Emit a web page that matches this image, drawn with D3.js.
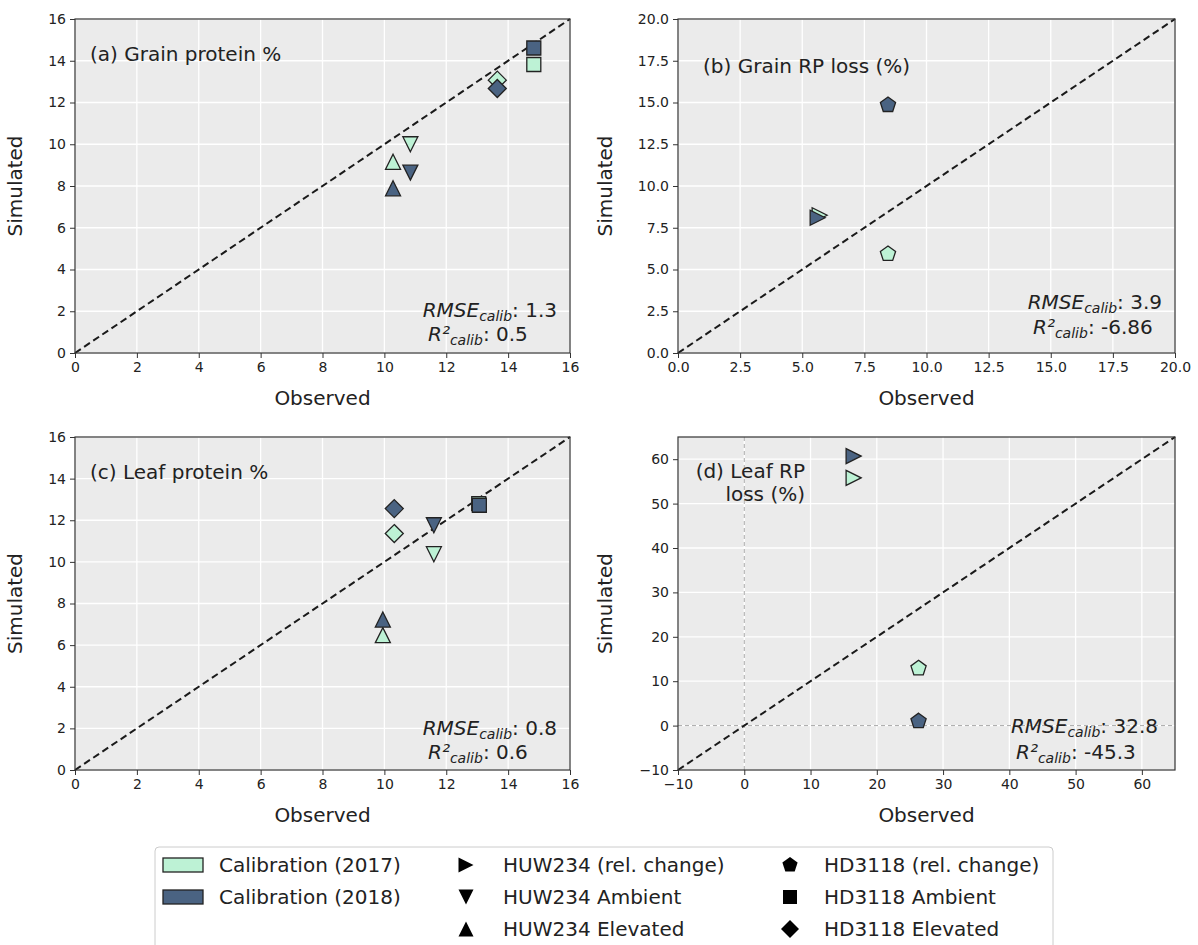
<!DOCTYPE html>
<html>
<head>
<meta charset="utf-8">
<title>calibration scatter</title>
<script src="https://cdn.jsdelivr.net/npm/d3@7"></script>
<style>
  body { margin: 0; background: #fff; }
  svg text { font-family: "DejaVu Sans", sans-serif; fill: #222; }
</style>
</head>
<body>
<svg id="chart" width="1198" height="945"></svg>
<script>
// ---- data ----
var yearLabels = ['Calibration (2017)', 'Calibration (2018)'];
var markerLabels = ['HUW234 (rel. change)', 'HUW234 Ambient', 'HUW234 Elevated',
                    'HD3118 (rel. change)', 'HD3118 Ambient', 'HD3118 Elevated'];

var panelTitles = [['(a) Grain protein %'], ['(b) Grain RP loss (%)'],
                   ['(c) Leaf protein %'], ['(d) Leaf RP', 'loss (%)']];
var rmseValues = ['1.3', '3.9', '0.8', '32.8'];
var r2Values = ['0.5', '-6.86', '0.6', '-45.3'];

var proteinTicks = [0, 2, 4, 6, 8, 10, 12, 14, 16];
var grainLossTicks = [0, 2.5, 5, 7.5, 10, 12.5, 15, 17.5, 20];
var leafLossTicks = [-10, 0, 10, 20, 30, 40, 50, 60];

var grainProtein = [
  {m: 'HUW234 Elevated', year: 2017, obs: 10.28, sim: 9.16},
  {m: 'HUW234 Ambient',  year: 2017, obs: 10.84, sim: 10.0},
  {m: 'HD3118 Elevated', year: 2017, obs: 13.65, sim: 13.07},
  {m: 'HD3118 Ambient',  year: 2017, obs: 14.83, sim: 13.82},
  {m: 'HUW234 Elevated', year: 2018, obs: 10.28, sim: 7.89},
  {m: 'HUW234 Ambient',  year: 2018, obs: 10.84, sim: 8.64},
  {m: 'HD3118 Elevated', year: 2018, obs: 13.65, sim: 12.67},
  {m: 'HD3118 Ambient',  year: 2018, obs: 14.83, sim: 14.61}
];
var grainRPLoss = [
  {m: 'HUW234 (rel. change)', year: 2017, obs: 5.7,  sim: 8.25},
  {m: 'HD3118 (rel. change)', year: 2017, obs: 8.45, sim: 5.93},
  {m: 'HUW234 (rel. change)', year: 2018, obs: 5.62, sim: 8.1},
  {m: 'HD3118 (rel. change)', year: 2018, obs: 8.45, sim: 14.85}
];
var leafProtein = [
  {m: 'HUW234 Elevated', year: 2017, obs: 9.95,  sim: 6.48},
  {m: 'HUW234 Ambient',  year: 2017, obs: 11.6,  sim: 10.37},
  {m: 'HD3118 Elevated', year: 2017, obs: 10.32, sim: 11.36},
  {m: 'HD3118 Ambient',  year: 2017, obs: 13.05, sim: 12.8},
  {m: 'HUW234 Elevated', year: 2018, obs: 9.95,  sim: 7.23},
  {m: 'HUW234 Ambient',  year: 2018, obs: 11.6,  sim: 11.76},
  {m: 'HD3118 Elevated', year: 2018, obs: 10.32, sim: 12.56},
  {m: 'HD3118 Ambient',  year: 2018, obs: 13.07, sim: 12.72}
];
var leafRPLoss = [
  {m: 'HUW234 (rel. change)', year: 2017, obs: 16.5, sim: 55.8},
  {m: 'HD3118 (rel. change)', year: 2017, obs: 26.3, sim: 12.9},
  {m: 'HUW234 (rel. change)', year: 2018, obs: 16.5, sim: 60.7},
  {m: 'HD3118 (rel. change)', year: 2018, obs: 26.3, sim: 1.0}
];

// ---- styles / layout ----
var yearColor = {2017: '#bdf2d5', 2018: '#4a6382'};
var shapeOf = {
  'HUW234 (rel. change)': 'right', 'HUW234 Ambient': 'down', 'HUW234 Elevated': 'up',
  'HD3118 (rel. change)': 'pentagon', 'HD3118 Ambient': 'square', 'HD3118 Elevated': 'diamond'
};
var shapeSize = {right: 7.5, down: 7.5, up: 7.5, pentagon: 8, square: 7, diamond: 9};

var panels = [
  {data: grainProtein, domain: [0, 16], ticks: proteinTicks, fmt: d3.format('d'),
   left: 75, top: 19, w: 495, h: 334, title: {x: 15, y: 42, anchor: 'start'},
   stats: {e1: 13, b1: 36, s2: 142, b2: 12}, ylab: -53},
  {data: grainRPLoss, domain: [0, 20], ticks: grainLossTicks, fmt: d3.format('.1f'),
   left: 678, top: 19, w: 497, h: 334, title: {x: 25, y: 54, anchor: 'start'},
   stats: {e1: 13, b1: 44, s2: 142, b2: 19}, ylab: -66},
  {data: leafProtein, domain: [0, 16], ticks: proteinTicks, fmt: d3.format('d'),
   left: 75, top: 437, w: 495, h: 333, title: {x: 15, y: 42, anchor: 'start'},
   stats: {e1: 13, b1: 35, s2: 142, b2: 11}, ylab: -53},
  {data: leafRPLoss, domain: [-10, 65], ticks: leafLossTicks, fmt: d3.format('d'),
   left: 678, top: 437, w: 497, h: 333, title: {x: 127, y: 41, anchor: 'end'},
   stats: {e1: 17, b1: 37, s2: 159, b2: 11}, ylab: -66, zeroLines: true}
];

function shapePath(kind, r) {
  var pts;
  if (kind === 'square') pts = [[-r, -r], [r, -r], [r, r], [-r, r]];
  else if (kind === 'diamond') pts = [[0, -r], [r, 0], [0, r], [-r, 0]];
  else if (kind === 'up') pts = [[0, -r], [r, r], [-r, r]];
  else if (kind === 'down') pts = [[0, r], [r, -r], [-r, -r]];
  else if (kind === 'right') pts = [[r, 0], [-r, r], [-r, -r]];
  else pts = d3.range(5).map(function (k) {
    var a = (-90 + 72 * k) * Math.PI / 180;
    return [r * Math.cos(a), r * Math.sin(a)];
  });
  return d3.line().curve(d3.curveLinearClosed)(pts);
}

var svg = d3.select('#chart');

panels.forEach(function (p, i) {
  var x = d3.scaleLinear().domain(p.domain).range([0, p.w]);
  var y = d3.scaleLinear().domain(p.domain).range([p.h, 0]);
  var g = svg.append('g').attr('transform', 'translate(' + p.left + ',' + p.top + ')');

  g.append('rect').attr('width', p.w).attr('height', p.h).attr('fill', '#ebebeb');

  // grid
  g.selectAll('.gx').data(p.ticks).enter().append('line')
    .attr('x1', x).attr('x2', x).attr('y1', 0).attr('y2', p.h)
    .attr('stroke', '#fff').attr('stroke-width', 1.3);
  g.selectAll('.gy').data(p.ticks).enter().append('line')
    .attr('y1', y).attr('y2', y).attr('x1', 0).attr('x2', p.w)
    .attr('stroke', '#fff').attr('stroke-width', 1.3);

  if (p.zeroLines) {
    g.append('line').attr('x1', x(0)).attr('x2', x(0)).attr('y1', 0).attr('y2', p.h)
      .attr('stroke', '#a8a8a8').attr('stroke-width', 1).attr('stroke-dasharray', '4,3');
    g.append('line').attr('y1', y(0)).attr('y2', y(0)).attr('x1', 0).attr('x2', p.w)
      .attr('stroke', '#a8a8a8').attr('stroke-width', 1).attr('stroke-dasharray', '4,3');
  }

  // 1:1 line
  g.append('line')
    .attr('x1', x(p.domain[0])).attr('y1', y(p.domain[0]))
    .attr('x2', x(p.domain[1])).attr('y2', y(p.domain[1]))
    .attr('stroke', '#1a1a1a').attr('stroke-width', 2).attr('stroke-dasharray', '7,4');

  // points, 2017 first so 2018 sits on top
  var pts = p.data.slice().sort(function (a, b) { return a.year - b.year; });
  g.selectAll('.pt').data(pts).enter().append('path')
    .attr('d', function (d) { return shapePath(shapeOf[d.m], shapeSize[shapeOf[d.m]]); })
    .attr('transform', function (d) { return 'translate(' + x(d.obs) + ',' + y(d.sim) + ')'; })
    .attr('fill', function (d) { return yearColor[d.year]; })
    .attr('stroke', '#222').attr('stroke-width', 1.3).attr('stroke-linejoin', 'miter');

  // axes
  var xa = g.append('g').attr('transform', 'translate(0,' + p.h + ')')
    .call(d3.axisBottom(x).tickValues(p.ticks).tickFormat(p.fmt).tickSize(5).tickPadding(4));
  var ya = g.append('g')
    .call(d3.axisLeft(y).tickValues(p.ticks).tickFormat(p.fmt).tickSize(5).tickPadding(4));
  [xa, ya].forEach(function (a) {
    a.select('.domain').remove();
    a.selectAll('line').attr('stroke', '#333');
    a.selectAll('text').style('font-size', '14px').attr('fill', '#222');
  });

  g.append('rect').attr('width', p.w).attr('height', p.h)
    .attr('fill', 'none').attr('stroke', '#333').attr('stroke-width', 1.2);

  g.append('text').attr('x', p.w / 2).attr('y', p.h + 52)
    .attr('text-anchor', 'middle').style('font-size', '20px').text('Observed');
  g.append('text').attr('transform', 'translate(' + p.ylab + ',' + (p.h / 2) + ') rotate(-90)')
    .attr('text-anchor', 'middle').style('font-size', '20px').text('Simulated');

  // panel title
  panelTitles[i].forEach(function (line, k) {
    g.append('text').attr('x', p.title.x).attr('y', p.title.y + k * 23)
      .attr('text-anchor', p.title.anchor).style('font-size', '20px').text(line);
  });

  // stats
  var s = p.stats;
  var t1 = g.append('text').attr('x', p.w - s.e1).attr('y', p.h - s.b1)
    .attr('text-anchor', 'end').style('font-size', '20px');
  t1.append('tspan').style('font-style', 'italic').text('RMSE');
  t1.append('tspan').style('font-style', 'italic').style('font-size', '14px').attr('dy', 4).text('calib');
  t1.append('tspan').attr('dy', -4).text(': ' + rmseValues[i]);
  var t2 = g.append('text').attr('x', p.w - s.s2).attr('y', p.h - s.b2)
    .attr('text-anchor', 'start').style('font-size', '20px');
  t2.append('tspan').style('font-style', 'italic').text('R²');
  t2.append('tspan').style('font-style', 'italic').style('font-size', '14px').attr('dy', 4).text('calib');
  t2.append('tspan').attr('dy', -4).text(': ' + r2Values[i]);
});

// ---- legend ----
var lg = svg.append('g');
lg.append('rect').attr('x', 155).attr('y', 847).attr('width', 898).attr('height', 120)
  .attr('rx', 4).attr('fill', '#fff').attr('stroke', '#cccccc');

var rowY = [865, 897, 929];
yearLabels.forEach(function (lab, k) {
  lg.append('rect').attr('x', 163).attr('y', rowY[k] - 7).attr('width', 40).attr('height', 14)
    .attr('fill', yearColor[k === 0 ? 2017 : 2018]).attr('stroke', '#222').attr('stroke-width', 1.3);
  lg.append('text').attr('x', 219).attr('y', rowY[k] + 7).style('font-size', '20px').text(lab);
});
markerLabels.forEach(function (lab, k) {
  var col = Math.floor(k / 3), row = k % 3;
  var mx = col === 0 ? 466 : 790, tx = col === 0 ? 503 : 824;
  var kind = shapeOf[lab];
  lg.append('path').attr('d', shapePath(kind, shapeSize[kind]))
    .attr('transform', 'translate(' + mx + ',' + rowY[row] + ')').attr('fill', '#000');
  lg.append('text').attr('x', tx).attr('y', rowY[row] + 7).style('font-size', '20px').text(lab);
});
</script>
</body>
</html>
